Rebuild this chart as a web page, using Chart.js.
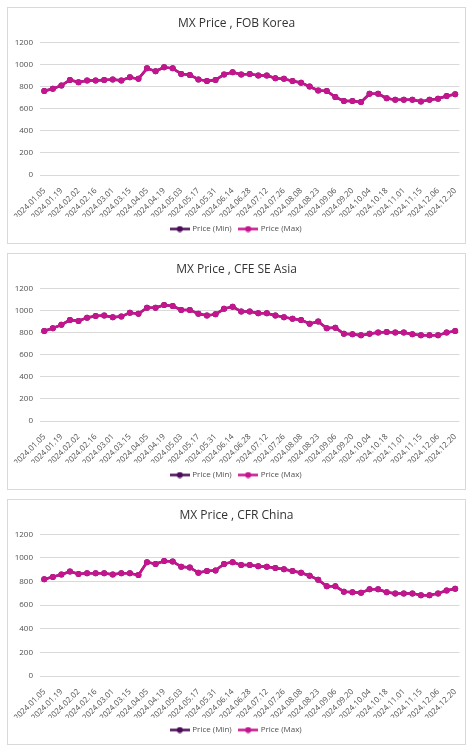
<!DOCTYPE html>
<html>
<head>
<meta charset="utf-8">
<script src="https://cdn.jsdelivr.net/npm/chart.js@4.4.1/dist/chart.umd.min.js"></script>
<style>
    html, body { margin: 0; padding: 0; background: #fff; }
    body { width: 473px; height: 750px; position: relative; overflow: hidden; }
    .box { position: absolute; left: 7px; width: 457px; height: 235px; border: 1px solid #d9d9d9; background: #fff; }
    .box canvas { display: block; }
</style>
</head>
<body>
<div class="box" style="top:7px"><canvas id="chart_fob"></canvas></div>
<div class="box" style="top:253px"><canvas id="chart_cfe"></canvas></div>
<div class="box" style="top:499px; height:244px"><canvas id="chart_cfr"></canvas></div>
<script>
const dates = [
    '2024.01.05', '2024.01.12', '2024.01.19', '2024.01.26', '2024.02.02', '2024.02.09', '2024.02.16',
    '2024.02.23', '2024.03.01', '2024.03.08', '2024.03.15', '2024.03.22', '2024.04.05', '2024.04.12',
    '2024.04.19', '2024.04.26', '2024.05.03', '2024.05.10', '2024.05.17', '2024.05.24', '2024.05.31',
    '2024.06.07', '2024.06.14', '2024.06.21', '2024.06.28', '2024.07.05', '2024.07.12', '2024.07.19',
    '2024.07.26', '2024.08.02', '2024.08.08', '2024.08.16', '2024.08.23', '2024.08.30', '2024.09.06',
    '2024.09.13', '2024.09.20', '2024.09.27', '2024.10.04', '2024.10.11', '2024.10.18', '2024.10.25',
    '2024.11.01', '2024.11.08', '2024.11.15', '2024.11.22', '2024.12.06', '2024.12.13', '2024.12.20'
];

const fobKoreaMax = [
    760, 780, 810, 860, 840, 855, 855, 860, 865, 855, 885, 870, 965, 940, 975, 965, 915,
    905, 865, 850, 860, 910, 930, 910, 915, 900, 900, 875, 870, 850, 835, 800, 765,
    760, 705, 670, 670, 660, 735, 735, 695, 680, 680, 680, 665, 680, 690, 715, 730
];
const cfeSeAsiaMax = [
    815, 840, 870, 915, 905, 935, 950, 955, 940, 945, 980, 970, 1025, 1025, 1050, 1040, 1005,
    1005, 970, 955, 965, 1015, 1035, 990, 990, 975, 975, 955, 940, 925, 915, 880, 900,
    840, 845, 790, 785, 775, 790, 800, 805, 800, 800, 785, 775, 775, 775, 800, 815
];
const cfrChinaMax = [
    820, 840, 860, 885, 865, 870, 870, 870, 860, 870, 870, 855, 965, 950, 975, 970, 925,
    920, 875, 890, 895, 950, 965, 940, 940, 930, 925, 915, 905, 890, 875, 850, 815,
    760, 760, 715, 710, 705, 735, 735, 710, 700, 700, 700, 685, 685, 700, 725, 740
];
// min line is hidden under the max line in the picture
const fobKoreaMin = fobKoreaMax;
const cfeSeAsiaMin = cfeSeAsiaMax;
const cfrChinaMin = cfrChinaMax;

const minColor = '#4b0c58';
const maxColor = '#c4158e';
const textColor = '#505050';
const fontFamily = "'Open Sans', 'Liberation Sans', sans-serif";

function legendIcon(color) {
    const c = document.createElement('canvas');
    c.width = 20;
    c.height = 7;
    const ctx = c.getContext('2d');
    ctx.strokeStyle = color;
    ctx.lineWidth = 2.5;
    ctx.beginPath();
    ctx.moveTo(0, 3.5);
    ctx.lineTo(20, 3.5);
    ctx.stroke();
    ctx.fillStyle = color;
    ctx.beginPath();
    ctx.arc(10, 3.5, 3, 0, Math.PI * 2);
    ctx.fill();
    return c;
}
const icons = [legendIcon(minColor), legendIcon(maxColor)];

function makeChart(id, title, minData, maxData) {
    const el = document.getElementById(id).getContext('2d');
    return new Chart(el, {
        type: 'line',
        data: {
            labels: dates,
            datasets: [
                {
                    label: 'Price (Min)',
                    data: minData,
                    borderColor: minColor,
                    backgroundColor: minColor,
                    borderWidth: 2.5,
                    pointRadius: 3,
                    pointBorderWidth: 0,
                    pointHoverRadius: 3,
                    order: 1
                },
                {
                    label: 'Price (Max)',
                    data: maxData,
                    borderColor: maxColor,
                    backgroundColor: maxColor,
                    borderWidth: 2.5,
                    pointRadius: 3,
                    pointBorderWidth: 0,
                    pointHoverRadius: 3,
                    order: 0
                }
            ]
        },
        options: {
            responsive: true,
            maintainAspectRatio: false,
            animation: false,
            layout: { padding: { left: 5, right: 5, top: 0, bottom: 0 } },
            plugins: {
                title: {
                    display: true,
                    text: title,
                    color: '#333333',
                    font: { family: fontFamily, size: 12, weight: 'normal' },
                    padding: { top: 8, bottom: 12 }
                },
                legend: {
                    position: 'bottom',
                    labels: {
                        usePointStyle: true,
                        pointStyleWidth: 17,
                        boxHeight: 7,
                        color: textColor,
                        font: { family: fontFamily, size: 8 },
                        padding: 8,
                        sort: (a, b) => a.datasetIndex - b.datasetIndex,
                        generateLabels: function(chart) {
                            const items = Chart.defaults.plugins.legend.labels.generateLabels(chart);
                            items.forEach(function(item) { item.pointStyle = icons[item.datasetIndex]; });
                            return items;
                        }
                    }
                },
                tooltip: { enabled: false }
            },
            scales: {
                x: {
                    offset: true,
                    grid: { display: false },
                    border: { display: false },
                    ticks: {
                        autoSkip: false,
                        minRotation: 45,
                        maxRotation: 45,
                        padding: 3,
                        color: textColor,
                        font: { family: fontFamily, size: 8 },
                        callback: function(value, index) {
                            return index % 2 === 0 ? this.getLabelForValue(value) : '';
                        }
                    },
                    afterFit: function(scale) { scale.height = 42; }
                },
                y: {
                    min: 0,
                    max: 1200,
                    grid: { color: '#d9d9d9', lineWidth: 1, drawTicks: false },
                    border: { display: false },
                    ticks: {
                        stepSize: 200,
                        padding: 7,
                        color: textColor,
                        font: { family: fontFamily, size: 8 },
                        callback: value => String(value)
                    },
                    afterFit: function(scale) { scale.width = 27; }
                }
            }
        }
    });
}

makeChart('chart_fob', 'MX Price , FOB Korea', fobKoreaMin, fobKoreaMax);
makeChart('chart_cfe', 'MX Price , CFE SE Asia', cfeSeAsiaMin, cfeSeAsiaMax);
makeChart('chart_cfr', 'MX Price , CFR China', cfrChinaMin, cfrChinaMax);
</script>
</body>
</html>
